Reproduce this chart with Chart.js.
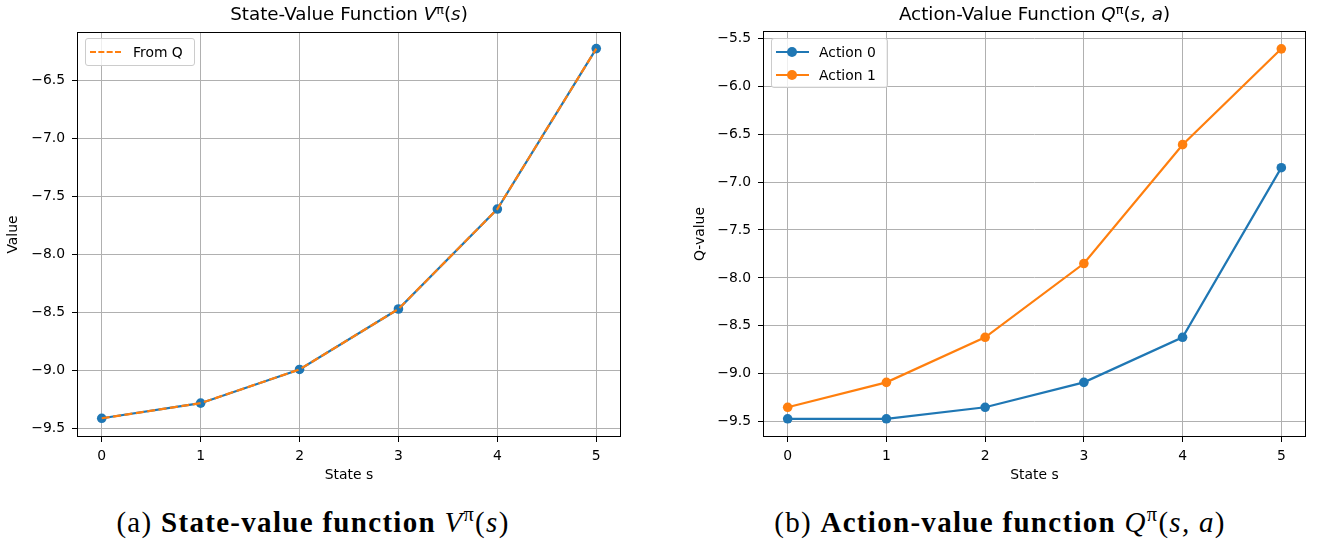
<!DOCTYPE html>
<html>
<head>
<meta charset="utf-8">
<script src="https://cdn.jsdelivr.net/npm/chart.js@4.4.1/dist/chart.umd.min.js"></script>
<style>
  body { margin: 0; background: #fff; }
  #page { position: relative; width: 1322px; height: 546px; overflow: hidden; font-family: 'DejaVu Sans', sans-serif; color: #000; }
  canvas { position: absolute; top: 0; }
  .title { position: absolute; top: 4px; font-size: 18.3px; line-height: 20px; text-align: center; white-space: nowrap; }
  .title i { font-style: italic; }
  .sup { font-size: 0.7em; position: relative; top: -0.5em; }
  .legend { position: absolute; background: rgba(255,255,255,0.8); border: 1px solid #cccccc; border-radius: 3px; box-sizing: border-box; font-size: 13.9px; }
  .legend .row { position: absolute; left: 0; height: 16px; line-height: 16px; white-space: nowrap; }
  .legend .line { position: absolute; top: 7px; height: 0; width: 33px; left: 4px; }
  .legend .dot { position: absolute; top: 3px; left: 15px; width: 10px; height: 10px; border-radius: 50%; }
  .legend .txt { position: absolute; left: 47px; top: 0; }
  .caption { position: absolute; top: 505px; font-family: 'Liberation Serif', serif; font-size: 29px; letter-spacing: 1.3px; line-height: 34px; white-space: nowrap; transform: translateX(-50%); }
  .caption b { font-weight: bold; }
  .caption .sup { font-size: 0.7em; top: -0.55em; }
</style>
</head>
<body>
<div id="page">
  <canvas id="vChart" width="640" height="487" style="left:0"></canvas>
  <canvas id="qChart" width="662" height="487" style="left:660px"></canvas>

  <div class="title" style="left:77px; width:544px">State-Value Function <i>V</i><span class="sup">π</span>(<i>s</i>)</div>
  <div class="title" style="left:763px; width:543px">Action-Value Function <i>Q</i><span class="sup">π</span>(<i>s</i>, <i>a</i>)</div>

  <div class="legend" style="left:85px; top:38px; width:110px; height:28px">
    <div class="row" style="top:5px">
      <div class="line" style="border-top:2.2px dashed #ff7f0e; width:31px; left:4px"></div>
      <div class="txt">From Q</div>
    </div>
  </div>

  <div class="legend" style="left:771px; top:38px; width:117px; height:50px">
    <div class="row" style="top:5px">
      <div class="line" style="border-top:2.2px solid #1f77b4"></div>
      <div class="dot" style="background:#1f77b4"></div>
      <div class="txt">Action 0</div>
    </div>
    <div class="row" style="top:28px">
      <div class="line" style="border-top:2.2px solid #ff7f0e"></div>
      <div class="dot" style="background:#ff7f0e"></div>
      <div class="txt">Action 1</div>
    </div>
  </div>

  <div class="caption" style="left:313px">(a) <b>State-value function</b> <i>V</i><span class="sup">π</span>(<i>s</i>)</div>
  <div class="caption" style="left:1000px">(b) <b>Action-value function</b> <i>Q</i><span class="sup">π</span>(<i>s, a</i>)</div>
</div>

<script>
// data
const states = [0, 1, 2, 3, 4, 5];
const vValues = [-9.41, -9.28, -8.99, -8.47, -7.61, -6.23];
const vFromQ = [-9.41, -9.28, -8.99, -8.47, -7.61, -6.23];
const qAction0 = [-9.47, -9.47, -9.35, -9.09, -8.62, -6.85];
const qAction1 = [-9.35, -9.09, -8.62, -7.85, -6.61, -5.61];

const xRange = [-0.25, 5.25];
const vRange = [-9.571, -6.087];
const qRange = [-9.66, -5.424];

const BLUE = '#1f77b4';
const ORANGE = '#ff7f0e';
const FONT = { family: 'DejaVu Sans', size: 13.9 };

const pts = (ys) => states.map((s, i) => ({ x: s, y: ys[i] }));
const fmt = (v) => (v < 0 ? '\u2212' : '') + Math.abs(v).toFixed(1);

// matplotlib style box around the axes
const frame = {
  id: 'frame',
  afterDatasetsDraw(chart) {
    const a = chart.chartArea;
    const c = chart.ctx;
    c.save();
    c.strokeStyle = '#000';
    c.lineWidth = 1;
    c.strokeRect(Math.round(a.left) + 0.5, Math.round(a.top) + 0.5, Math.round(a.right - a.left) - 1, Math.round(a.bottom - a.top) - 1);
    c.restore();
  },
};

function makeOptions(yRange, yTitle, yWidth, yTitlePad, padRight, padTop) {
  return {
    responsive: false,
    animation: false,
    layout: { padding: { left: 0, top: padTop, right: padRight, bottom: 0 } },
    plugins: { legend: { display: false }, tooltip: { enabled: false }, title: { display: false } },
    scales: {
      x: {
        type: 'linear',
        min: xRange[0],
        max: xRange[1],
        afterFit: (s) => { s.height = 50; },
        ticks: { stepSize: 1, includeBounds: false, color: '#000', font: FONT, padding: 6, maxRotation: 0 },
        grid: { color: '#b0b0b0', lineWidth: 1, tickLength: 5, tickColor: '#000' },
        border: { display: false },
        title: { display: true, text: 'State s', color: '#000', font: FONT, padding: { top: 0, bottom: 3 } },
      },
      y: {
        type: 'linear',
        min: yRange[0],
        max: yRange[1],
        afterFit: (s) => { s.width = yWidth; },
        ticks: { stepSize: 0.5, includeBounds: false, color: '#000', font: FONT, padding: 7, callback: fmt },
        grid: { color: '#b0b0b0', lineWidth: 1, tickLength: 5, tickColor: '#000' },
        border: { display: false },
        title: { display: true, text: yTitle, color: '#000', font: FONT, padding: { top: yTitlePad, bottom: 0 } },
      },
    },
  };
}

new Chart(document.getElementById('vChart').getContext('2d'), {
  type: 'line',
  data: {
    datasets: [
      {
        label: 'From Q',
        data: pts(vFromQ),
        borderColor: ORANGE,
        borderWidth: 2.2,
        borderDash: [8, 3.5],
        pointRadius: 0,
        fill: false,
        order: 1,
      },
      {
        label: 'V',
        data: pts(vValues),
        borderColor: BLUE,
        backgroundColor: BLUE,
        borderWidth: 2.2,
        pointRadius: 4.8,
        pointBorderWidth: 0,
        pointBackgroundColor: BLUE,
        fill: false,
        order: 2,
      },
    ],
  },
  options: makeOptions(vRange, 'Value', 77, 5, 19, 32),
  plugins: [frame],
});

new Chart(document.getElementById('qChart').getContext('2d'), {
  type: 'line',
  data: {
    datasets: [
      {
        label: 'Action 1',
        data: pts(qAction1),
        borderColor: ORANGE,
        backgroundColor: ORANGE,
        borderWidth: 2.2,
        pointRadius: 4.8,
        pointBorderWidth: 0,
        pointBackgroundColor: ORANGE,
        fill: false,
        order: 1,
      },
      {
        label: 'Action 0',
        data: pts(qAction0),
        borderColor: BLUE,
        backgroundColor: BLUE,
        borderWidth: 2.2,
        pointRadius: 4.8,
        pointBorderWidth: 0,
        pointBackgroundColor: BLUE,
        fill: false,
        order: 2,
      },
    ],
  },
  options: makeOptions(qRange, 'Q-value', 103, 32, 16, 31),
  plugins: [frame],
});
</script>
</body>
</html>
